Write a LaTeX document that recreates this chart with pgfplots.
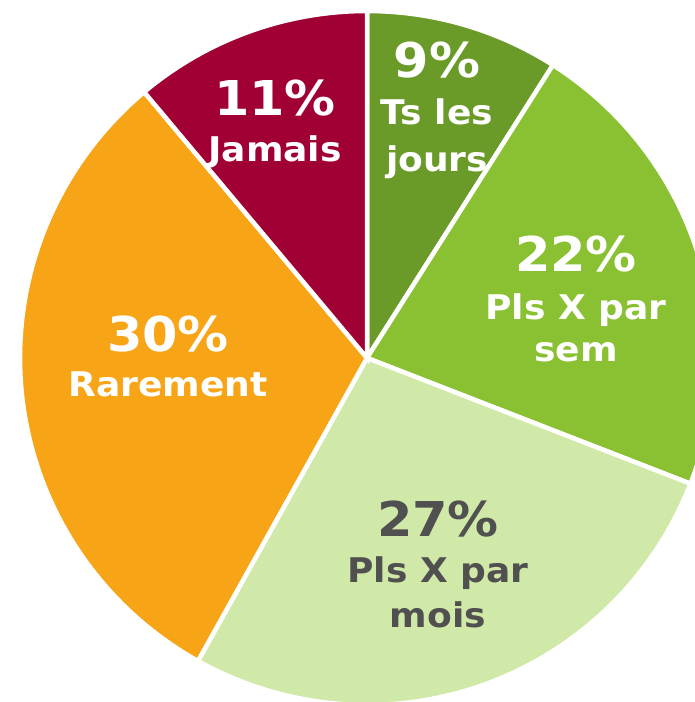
\documentclass[border=0pt]{standalone}
\usepackage{fontspec}
\setmainfont[FakeStretch=1.06]{DejaVu Sans}
\usepackage{pgfplots}
\pgfplotsset{compat=1.18}
\definecolor{cjours}{HTML}{6A9A27}
\definecolor{csem}{HTML}{8AC133}
\definecolor{cmois}{HTML}{D1E9A8}
\definecolor{crare}{HTML}{F7A416}
\definecolor{cjam}{HTML}{A10034}
\definecolor{txtgray}{HTML}{505050}

% slice shares (%), clockwise from 12 o'clock
\def\vJours{9.0}
\def\vSem{21.9}
\def\vMois{27.2}
\def\vRare{30.8}
\def\vJam{11.1}

\newcommand{\pctfont}{\fontsize{48}{56}\selectfont\bfseries}
\newcommand{\labfont}{\fontsize{34}{40}\selectfont\bfseries}

\begin{document}
\begin{tikzpicture}
\pgfmathsetmacro{\aA}{0}
\pgfmathsetmacro{\aB}{\aA+3.6*\vJours}
\pgfmathsetmacro{\aC}{\aB+3.6*\vSem}
\pgfmathsetmacro{\aD}{\aC+3.6*\vMois}
\pgfmathsetmacro{\aE}{\aD+3.6*\vRare}
\pgfmathsetmacro{\aF}{\aE+3.6*\vJam}
\begin{axis}[
  width=695pt, height=702pt, scale only axis,
  xmin=0, xmax=695, ymin=0, ymax=702,
  hide axis, clip=true,
]
\addplot[fill=cjours, draw=white, line width=4.5pt, domain=\aA:\aB, samples=40]
  ({367+347*sin(x)}, {344+347*cos(x)}) -- (axis cs:367,344) -- cycle;
\addplot[fill=csem, draw=white, line width=4.5pt, domain=\aB:\aC, samples=80]
  ({367+347*sin(x)}, {344+347*cos(x)}) -- (axis cs:367,344) -- cycle;
\addplot[fill=cmois, draw=white, line width=4.5pt, domain=\aC:\aD, samples=80]
  ({367+347*sin(x)}, {344+347*cos(x)}) -- (axis cs:367,344) -- cycle;
\addplot[fill=crare, draw=white, line width=4.5pt, domain=\aD:\aE, samples=100]
  ({367+347*sin(x)}, {344+347*cos(x)}) -- (axis cs:367,344) -- cycle;
\addplot[fill=cjam, draw=white, line width=4.5pt, domain=\aE:\aF, samples=40]
  ({367+347*sin(x)}, {344+347*cos(x)}) -- (axis cs:367,344) -- cycle;

\node[anchor=base, white] at (axis cs:437,624) {\pctfont 9\%};
\node[anchor=base, white] at (axis cs:437,577) {\labfont Ts les};
\node[anchor=base, white] at (axis cs:437,530) {\labfont jours};

\node[anchor=base, white] at (axis cs:576,430) {\pctfont 22\%};
\node[anchor=base, white] at (axis cs:576,382) {\labfont Pls X par};
\node[anchor=base, white] at (axis cs:576,340) {\labfont sem};

\node[anchor=base, txtgray] at (axis cs:438,165) {\pctfont 27\%};
\node[anchor=base, txtgray] at (axis cs:438,119) {\labfont Pls X par};
\node[anchor=base, txtgray] at (axis cs:438,75) {\labfont mois};

\node[anchor=base, white] at (axis cs:168,350) {\pctfont 30\%};
\node[anchor=base, white] at (axis cs:168,305) {\labfont Rarement};

\node[anchor=base, white] at (axis cs:275,586) {\pctfont 11\%};
\node[anchor=base, white] at (axis cs:275,540) {\labfont Jamais};
\end{axis}
\pgfresetboundingbox
\path[use as bounding box] (0,0) rectangle (695pt,702pt);
\end{tikzpicture}
\end{document}
